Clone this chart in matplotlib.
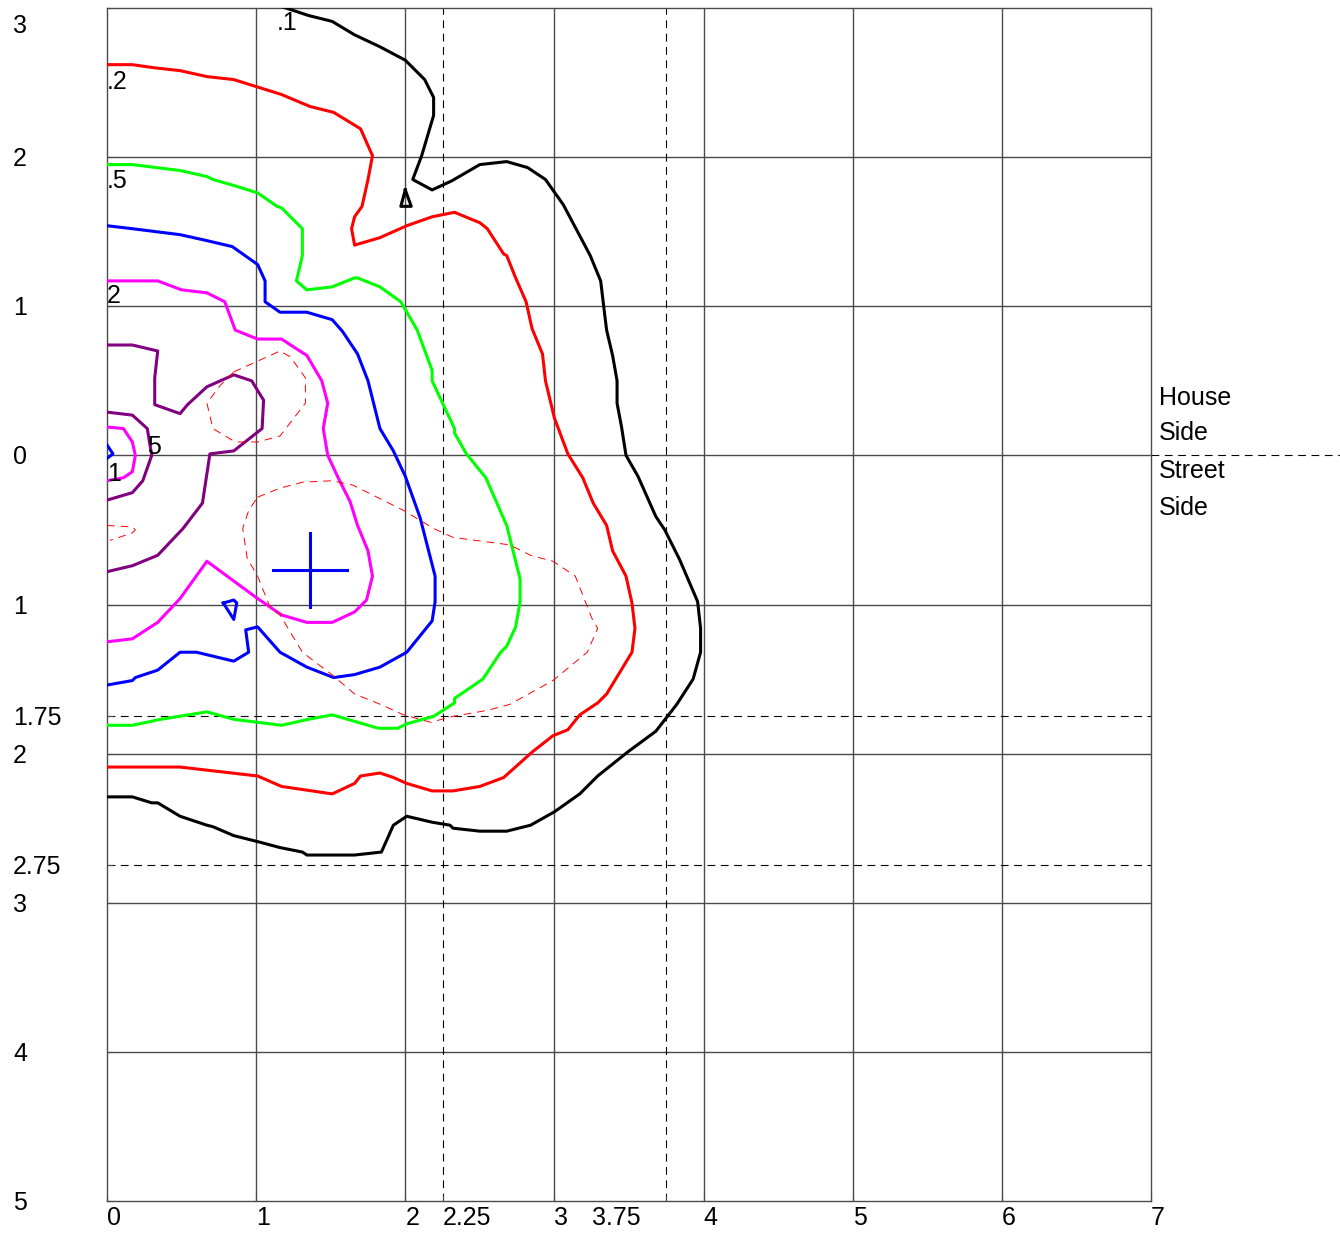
import matplotlib.pyplot as plt
from matplotlib.transforms import ScaledTranslation

plt.rcParams['font.family'] = ['Liberation Sans', 'DejaVu Sans']

# axis ticks / labels (street side shown as positive distances)
x_ticks = [0, 1, 2, 2.25, 3, 3.75, 4, 5, 6, 7]
x_tick_labels = ["0", "1", "2", "2.25", "3", "3.75", "4", "5", "6", "7"]
y_ticks = [3, 2, 1, 0, -1, -1.75, -2, -2.75, -3, -4, -5]
y_tick_labels = ["3", "2", "1", "0", "1", "1.75", "2", "2.75", "3", "4", "5"]
grid_x = [1, 2, 3, 4, 5, 6]
grid_y = [2, 1, 0, -1, -2, -3, -4]
dashed_x = [2.25, 3.75]
dashed_y = [-1.75, -2.75]

# contour lines (x, y)
c01 = [(1.14, 3.02), (1.35, 2.95), (1.51, 2.91), (1.66, 2.82), (1.83, 2.74), (2.00, 2.65),
       (2.13, 2.52), (2.19, 2.40), (2.19, 2.28), (2.11, 2.01), (2.05, 1.85), (2.18, 1.78),
       (2.31, 1.84), (2.50, 1.95), (2.68, 1.97), (2.82, 1.93), (2.94, 1.85), (3.06, 1.68),
       (3.24, 1.34), (3.31, 1.17), (3.34, 0.92), (3.35, 0.84), (3.39, 0.67), (3.42, 0.50),
       (3.42, 0.35), (3.45, 0.19), (3.48, 0.00), (3.56, -0.14), (3.68, -0.41), (3.74, -0.50),
       (3.84, -0.70), (3.96, -0.98), (3.98, -1.16), (3.98, -1.32), (3.93, -1.50), (3.82, -1.67),
       (3.68, -1.85), (3.49, -1.99), (3.29, -2.15), (3.17, -2.27), (3.00, -2.39), (2.84, -2.48),
       (2.68, -2.52), (2.50, -2.52), (2.32, -2.50), (2.30, -2.48), (2.18, -2.46), (2.01, -2.42),
       (1.92, -2.48), (1.84, -2.66), (1.66, -2.68), (1.34, -2.68), (1.31, -2.66), (1.16, -2.63),
       (1.01, -2.59), (0.85, -2.55), (0.71, -2.49), (0.67, -2.48), (0.49, -2.42), (0.34, -2.33),
       (0.30, -2.33), (0.17, -2.29), (0.00, -2.29)]
c01_island = [(2.00, 1.78), (1.97, 1.67), (2.04, 1.67), (2.00, 1.78)]

c02 = [(0.00, 2.62), (0.17, 2.62), (0.31, 2.60), (0.49, 2.58), (0.67, 2.54), (0.85, 2.52),
       (1.01, 2.47), (1.17, 2.42), (1.36, 2.34), (1.52, 2.30), (1.70, 2.19), (1.78, 2.01),
       (1.75, 1.85), (1.71, 1.67), (1.66, 1.60), (1.64, 1.52), (1.66, 1.41), (1.83, 1.46),
       (2.01, 1.54), (2.18, 1.60), (2.33, 1.63), (2.50, 1.56), (2.55, 1.52), (2.66, 1.35),
       (2.68, 1.34), (2.74, 1.19), (2.81, 1.03), (2.85, 0.85), (2.92, 0.68), (2.94, 0.50),
       (3.00, 0.25), (3.09, 0.01), (3.19, -0.15), (3.26, -0.32), (3.35, -0.47), (3.39, -0.64),
       (3.48, -0.81), (3.52, -0.99), (3.54, -1.16), (3.52, -1.32), (3.35, -1.60), (3.29, -1.66),
       (3.17, -1.74), (3.09, -1.84), (2.99, -1.88), (2.85, -1.99), (2.66, -2.16), (2.50, -2.22),
       (2.32, -2.25), (2.18, -2.25), (2.01, -2.20), (1.92, -2.16), (1.83, -2.13), (1.70, -2.15),
       (1.66, -2.20), (1.51, -2.27), (1.17, -2.22), (1.01, -2.15), (0.49, -2.09), (0.00, -2.09)]

c05 = [(0.00, 1.95), (0.17, 1.95), (0.49, 1.91), (0.67, 1.87), (0.71, 1.85), (0.85, 1.81),
       (1.01, 1.76), (1.14, 1.67), (1.17, 1.66), (1.31, 1.52), (1.31, 1.34), (1.27, 1.17),
       (1.34, 1.11), (1.51, 1.13), (1.66, 1.19), (1.68, 1.19), (1.83, 1.13), (1.97, 1.03),
       (2.08, 0.84), (2.18, 0.57), (2.18, 0.50), (2.25, 0.35), (2.33, 0.18), (2.33, 0.15),
       (2.41, 0.01), (2.54, -0.15), (2.68, -0.47), (2.77, -0.83), (2.77, -0.98), (2.74, -1.15),
       (2.68, -1.28), (2.64, -1.32), (2.52, -1.50), (2.33, -1.63), (2.33, -1.66), (2.19, -1.75),
       (2.01, -1.80), (1.95, -1.83), (1.82, -1.83), (1.51, -1.74), (1.35, -1.77), (1.17, -1.81),
       (1.01, -1.79), (0.85, -1.77), (0.67, -1.72), (0.36, -1.77), (0.17, -1.81), (0.00, -1.81)]

c1 = [(0.00, 1.54), (0.17, 1.52), (0.49, 1.48), (0.67, 1.44), (0.84, 1.40), (1.01, 1.28),
      (1.06, 1.17), (1.06, 1.03), (1.16, 0.96), (1.34, 0.96), (1.51, 0.91), (1.58, 0.83),
      (1.68, 0.68), (1.75, 0.50), (1.83, 0.18), (1.92, 0.03), (2.00, -0.14), (2.10, -0.42),
      (2.20, -0.81), (2.20, -0.98), (2.18, -1.11), (2.01, -1.32), (1.83, -1.42), (1.66, -1.47),
      (1.52, -1.49), (1.34, -1.42), (1.16, -1.32), (1.01, -1.15), (0.93, -1.17), (0.95, -1.32),
      (0.85, -1.38), (0.60, -1.32), (0.49, -1.32), (0.34, -1.44), (0.19, -1.49), (0.17, -1.51),
      (0.00, -1.54)]
c1_island = [(0.78, -0.99), (0.85, -0.97), (0.87, -0.99), (0.85, -1.10), (0.78, -0.99)]
c20 = [(0.00, 0.07), (0.04, 0.01), (0.00, -0.02)]

c2 = [(0.00, 1.17), (0.34, 1.17), (0.50, 1.11), (0.67, 1.09), (0.79, 1.03), (0.86, 0.84),
      (1.01, 0.78), (1.17, 0.78), (1.34, 0.67), (1.44, 0.50), (1.48, 0.35), (1.45, 0.18),
      (1.48, 0.00), (1.55, -0.15), (1.63, -0.31), (1.68, -0.47), (1.75, -0.64), (1.78, -0.81),
      (1.74, -0.97), (1.66, -1.05), (1.51, -1.12), (1.34, -1.12), (1.17, -1.07), (1.01, -0.96),
      (0.86, -0.85), (0.67, -0.71), (0.49, -0.96), (0.34, -1.12), (0.17, -1.23), (0.00, -1.25)]
c10 = [(0.00, 0.19), (0.11, 0.18), (0.17, 0.09), (0.19, 0.00), (0.17, -0.11), (0.11, -0.15),
       (0.00, -0.17)]

c5_outer = [(0.00, 0.74), (0.17, 0.74), (0.34, 0.70), (0.32, 0.52), (0.32, 0.34), (0.49, 0.28),
            (0.54, 0.34), (0.67, 0.46), (0.85, 0.54), (0.97, 0.50), (1.05, 0.37), (1.04, 0.18),
            (0.85, 0.03), (0.69, 0.01), (0.64, -0.32), (0.51, -0.49), (0.34, -0.67), (0.17, -0.74),
            (0.00, -0.78)]
c5_inner = [(0.00, 0.29), (0.17, 0.27), (0.27, 0.18), (0.30, 0.00), (0.24, -0.17), (0.17, -0.25),
            (0.00, -0.30)]

dash_small = [(0.85, 0.56), (1.16, 0.70), (1.23, 0.66), (1.33, 0.52), (1.33, 0.35), (1.16, 0.13),
              (1.01, 0.09), (0.86, 0.09), (0.71, 0.18), (0.67, 0.35), (0.76, 0.47), (0.85, 0.56)]
dash_large = [(1.01, -0.28), (1.16, -0.22), (1.31, -0.18), (1.51, -0.17), (1.65, -0.20),
              (1.81, -0.28), (1.99, -0.37), (2.19, -0.49), (2.32, -0.55), (2.70, -0.60),
              (2.84, -0.67), (2.99, -0.71), (3.14, -0.81), (3.25, -1.09), (3.29, -1.16),
              (3.22, -1.32), (2.99, -1.51), (2.70, -1.67), (2.55, -1.71), (2.32, -1.75),
              (2.17, -1.79), (1.99, -1.74), (1.81, -1.66), (1.66, -1.60), (1.52, -1.48),
              (1.31, -1.32), (1.16, -1.07), (1.09, -1.01), (1.01, -0.81), (0.94, -0.69),
              (0.91, -0.49), (0.95, -0.37), (1.01, -0.28)]
dash_edge = [(0.00, -0.47), (0.17, -0.48), (0.19, -0.50), (0.17, -0.52), (0.02, -0.57)]

# source position
cross_x, cross_y, cross_arm = 1.36, -0.77, 0.25

# contour level labels: (text, x, y)
level_labels = [(".1", 1.14, 2.85), (".2", 0.0, 2.46), (".5", 0.0, 1.79),
                ("2", 0.0, 1.02), ("5", 0.27, 0.01), ("1", 0.0, -0.17)]
side_labels = [("House", 0.336), ("Side", 0.10), ("Street", -0.154), ("Side", -0.40)]

fig = plt.figure(figsize=(13.4, 12.35), dpi=100)
ax = fig.add_axes([107 / 1340, 34 / 1235, 1044 / 1340, 1193 / 1235])
ax.set_xlim(0, 7)
ax.set_ylim(-5, 3)

gcol = '#4a4a4a'
for gx in grid_x:
    ax.axvline(gx, color=gcol, lw=1.0, zorder=1)
for gy in grid_y:
    ax.axhline(gy, color=gcol, lw=1.0, zorder=1)
for dx in dashed_x:
    ax.axvline(dx, color='black', lw=0.8, dashes=(7, 5), zorder=1)
for dy in dashed_y:
    ax.axhline(dy, color='black', lw=0.8, dashes=(7, 5), zorder=1)
# house / street divider runs past the frame
ax.plot([7, 8.3], [0, 0], color='black', lw=0.8, dashes=(7, 5), clip_on=False)


def draw(pts, color, **kw):
    xs = [p[0] for p in pts]
    ys = [p[1] for p in pts]
    ax.plot(xs, ys, color=color, zorder=3, **kw)


lw = 2.2
draw(c01, 'black', lw=lw)
draw(c01_island, 'black', lw=lw)
draw(c02, '#ff0000', lw=lw)
draw(c05, '#00ff00', lw=lw)
draw(c1, '#0000ff', lw=lw)
draw(c1_island, '#0000ff', lw=lw)
draw(c20, '#0000ff', lw=lw)
draw(c2, '#ff00ff', lw=lw)
draw(c10, '#ff00ff', lw=lw)
draw(c5_outer, '#800080', lw=lw)
draw(c5_inner, '#800080', lw=lw)
for d in (dash_small, dash_large, dash_edge):
    draw(d, '#ff0000', lw=0.7, dashes=(8, 6))

ax.plot([cross_x - cross_arm, cross_x + cross_arm], [cross_y, cross_y], color='#0000ff', lw=lw, zorder=4)
ax.plot([cross_x, cross_x], [cross_y - cross_arm, cross_y + cross_arm], color='#0000ff', lw=lw, zorder=4)

fs = 18
for txt, lx, ly in level_labels:
    ax.text(lx, ly, txt, fontsize=fs, ha='left', va='baseline', zorder=5)

# ticks
ax.set_xticks(x_ticks)
ax.set_yticks(y_ticks)
ax.set_xticklabels([])
ax.set_yticklabels([])
ax.tick_params(direction='in', length=4, color=gcol, width=0.8)
for s in ax.spines.values():
    s.set_color(gcol)
    s.set_linewidth(1.0)

xtr = ax.get_xaxis_transform()
for v, lab in zip(x_ticks, x_tick_labels):
    if lab == "3.75":
        off = ScaledTranslation(-0.26, -0.24, fig.dpi_scale_trans)
        ax.text(v, 0, lab, fontsize=fs, ha='right', va='baseline', transform=xtr + off)
    else:
        off = ScaledTranslation(0.0, -0.24, fig.dpi_scale_trans)
        ax.text(v, 0, lab, fontsize=fs, ha='left', va='baseline', transform=xtr + off)

ytr = ax.get_yaxis_transform()
for v, lab in zip(y_ticks, y_tick_labels):
    dy = -0.25 if v == 3 else -0.09
    off = ScaledTranslation(0, dy, fig.dpi_scale_trans)
    ax.text(-94 / 1044, v, lab, fontsize=fs, ha='left', va='baseline', transform=ytr + off)

for txt, ly in side_labels:
    ax.text(7.055, ly, txt, fontsize=fs, ha='left', va='baseline', clip_on=False)

fig.savefig('out.png', dpi=100)
